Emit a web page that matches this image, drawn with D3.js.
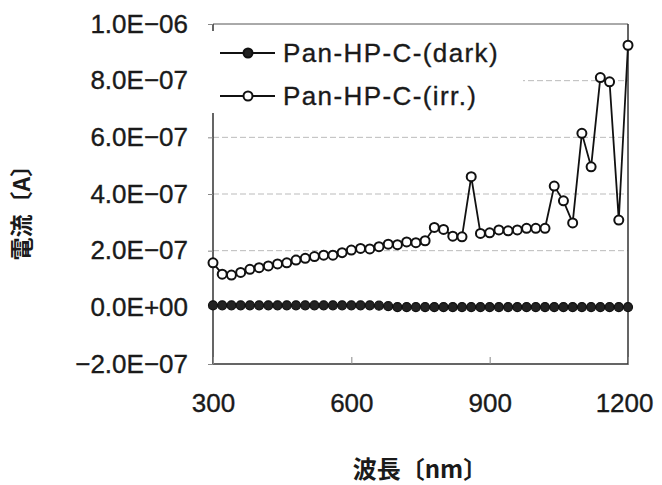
<!DOCTYPE html>
<meta charset="utf-8">
<style>
  body { margin: 0; background: #fff; }
  text { font-family: "Liberation Sans", Arial, sans-serif; fill: #1a1a1a; }
  .lbl { stroke: #1a1a1a; stroke-width: 0.35px; }
  .jp { font-family: "Noto Sans CJK JP", sans-serif; font-weight: bold; }
</style>
<body>
<svg width="662" height="485"></svg>
<script src="https://cdn.jsdelivr.net/npm/d3@7"></script>
<script>
  // wavelength (nm), current (A)
  var wavelength = [300, 320, 340, 360, 380, 400, 420, 440, 460, 480, 500, 520, 540, 560, 580, 600,
    620, 640, 660, 680, 700, 720, 740, 760, 780, 800, 820, 840, 860, 880, 900, 920, 940, 960, 980,
    1000, 1020, 1040, 1060, 1080, 1100, 1120, 1140, 1160, 1180, 1200];
  var dark = [0.07e-7, 0.07e-7, 0.07e-7, 0.07e-7, 0.07e-7, 0.07e-7, 0.07e-7, 0.07e-7, 0.07e-7, 0.07e-7,
    0.07e-7, 0.07e-7, 0.07e-7, 0.07e-7, 0.07e-7, 0.07e-7, 0.07e-7, 0.07e-7, 0.06e-7, 0.04e-7,
    0.01e-7, 0.01e-7, 0.01e-7, 0.01e-7, 0.01e-7, 0.01e-7, 0.01e-7, 0.01e-7, 0.01e-7, 0.01e-7,
    0.01e-7, 0.01e-7, 0.01e-7, 0.01e-7, 0.01e-7, 0.01e-7, 0.01e-7, 0.01e-7, 0.01e-7, 0.01e-7,
    0.01e-7, 0.01e-7, 0.01e-7, 0.01e-7, 0.01e-7, 0.01e-7];
  var irr = [1.57e-7, 1.17e-7, 1.14e-7, 1.23e-7, 1.34e-7, 1.40e-7, 1.46e-7, 1.53e-7, 1.57e-7, 1.67e-7,
    1.73e-7, 1.79e-7, 1.84e-7, 1.84e-7, 1.93e-7, 2.02e-7, 2.08e-7, 2.06e-7, 2.14e-7, 2.23e-7,
    2.21e-7, 2.31e-7, 2.28e-7, 2.35e-7, 2.82e-7, 2.75e-7, 2.51e-7, 2.49e-7, 4.61e-7, 2.61e-7,
    2.63e-7, 2.73e-7, 2.70e-7, 2.73e-7, 2.79e-7, 2.79e-7, 2.79e-7, 4.28e-7, 3.76e-7, 2.98e-7,
    6.14e-7, 4.96e-7, 8.11e-7, 7.96e-7, 3.08e-7, 9.25e-7];
  var xTicks = [300, 600, 900, 1200];
  var yTicks = [-2e-7, 0, 2e-7, 4e-7, 6e-7, 8e-7, 1e-6];
  var seriesNames = ['Pan-HP-C-(dark)', 'Pan-HP-C-(irr.)'];

  var svg = d3.select('svg');
  var plotLeft = 213, plotRight = 628, plotTop = 24, plotBottom = 364;

  var x = d3.scaleLinear().domain([300, 1200]).range([plotLeft, plotRight]);
  var y = d3.scaleLinear().domain([-2e-7, 1e-6]).range([plotBottom, plotTop]);

  function sci(v) {
    if (Math.abs(v) < 1e-20) return '0.0E+00';
    var e = Math.floor(Math.log10(Math.abs(v)) + 1e-9);
    var m = v / Math.pow(10, e);
    var es = (e < 0 ? '\u2212' : '+') + (Math.abs(e) < 10 ? '0' : '') + Math.abs(e);
    return (m < 0 ? '\u2212' : '') + Math.abs(m).toFixed(1) + 'E' + es;
  }

  // grid
  svg.append('g')
    .selectAll('line')
    .data(yTicks.filter(function (d) { return d > 0; }))
    .enter().append('line')
    .attr('x1', plotLeft).attr('x2', plotRight)
    .attr('y1', function (d) { return y(d); })
    .attr('y2', function (d) { return y(d); })
    .attr('stroke', function (d) { return d === 1e-6 ? '#555' : '#bbb'; })
    .attr('stroke-width', 1)
    .attr('stroke-dasharray', function (d) { return d === 1e-6 ? null : '6 3'; });

  // frame
  svg.append('path')
    .attr('d', 'M' + plotLeft + ',' + plotTop + 'V' + plotBottom + 'H' + plotRight + 'V' + plotTop)
    .attr('fill', 'none')
    .attr('stroke', '#333')
    .attr('stroke-width', 1.5);

  // axes
  var yAxis = svg.append('g')
    .attr('transform', 'translate(' + plotLeft + ',0)')
    .call(d3.axisLeft(y).tickValues(yTicks).tickFormat(sci).tickSize(5).tickPadding(20));
  yAxis.select('.domain').remove();
  yAxis.selectAll('line').attr('stroke', '#888');
  yAxis.selectAll('text').attr('class', 'lbl').style('font-size', '26px').attr('fill', '#1a1a1a');

  var xAxis = svg.append('g')
    .attr('transform', 'translate(0,' + plotBottom + ')')
    .call(d3.axisBottom(x).tickValues(xTicks).tickFormat(d3.format('d')).tickSize(-7).tickPadding(30));
  xAxis.select('.domain').remove();
  xAxis.selectAll('line').attr('stroke', '#888');
  xAxis.selectAll('text').attr('class', 'lbl').style('font-size', '26px').attr('fill', '#1a1a1a')
    .attr('text-anchor', function (d) { return d === 1200 ? 'end' : 'middle'; })
    .attr('dx', function (d) { return d === 1200 ? 25 : 0; });

  // legend box covers left axis
  svg.append('rect')
    .attr('x', 205).attr('y', 31).attr('width', 318).attr('height', 82)
    .attr('fill', '#fff');

  // series
  var line = d3.line()
    .x(function (d) { return x(d[0]); })
    .y(function (d) { return y(d[1]); });

  var darkPts = d3.zip(wavelength, dark);
  var irrPts = d3.zip(wavelength, irr);

  svg.append('path').datum(darkPts)
    .attr('d', line).attr('fill', 'none').attr('stroke', '#111').attr('stroke-width', 2);
  svg.append('g').selectAll('circle').data(darkPts).enter().append('circle')
    .attr('cx', function (d) { return x(d[0]); })
    .attr('cy', function (d) { return y(d[1]); })
    .attr('r', 4.5).attr('fill', '#222').attr('stroke', '#111').attr('stroke-width', 1.2);

  svg.append('path').datum(irrPts)
    .attr('d', line).attr('fill', 'none').attr('stroke', '#111').attr('stroke-width', 1.8);
  svg.append('g').selectAll('circle').data(irrPts).enter().append('circle')
    .attr('cx', function (d) { return x(d[0]); })
    .attr('cy', function (d) { return y(d[1]); })
    .attr('r', 4.5).attr('fill', '#fff').attr('stroke', '#111').attr('stroke-width', 2);

  // legend
  var legend = svg.append('g').selectAll('g').data(seriesNames).enter().append('g')
    .attr('transform', function (d, i) { return 'translate(220,' + (53 + i * 43) + ')'; });
  legend.append('line')
    .attr('x1', 0).attr('x2', 55)
    .attr('stroke', '#111').attr('stroke-width', 2);
  legend.append('circle')
    .attr('cx', 28).attr('r', 4.5)
    .attr('fill', function (d, i) { return i === 0 ? '#222' : '#fff'; })
    .attr('stroke', '#111').attr('stroke-width', 2);
  legend.append('text')
    .attr('class', 'lbl')
    .attr('x', 63).attr('dy', '0.36em')
    .style('font-size', '26px').style('letter-spacing', '1.4px')
    .text(function (d) { return d; });

  // axis titles
  svg.append('text').attr('class', 'jp')
    .attr('transform', 'translate(30,207) rotate(-90)')
    .attr('text-anchor', 'middle')
    .style('font-size', '23px')
    .text('電流〔A〕');

  svg.append('text').attr('class', 'jp')
    .attr('x', 420).attr('y', 478)
    .attr('text-anchor', 'middle')
    .style('font-size', '24px')
    .text('波長〔nm〕');
</script>
</body>
